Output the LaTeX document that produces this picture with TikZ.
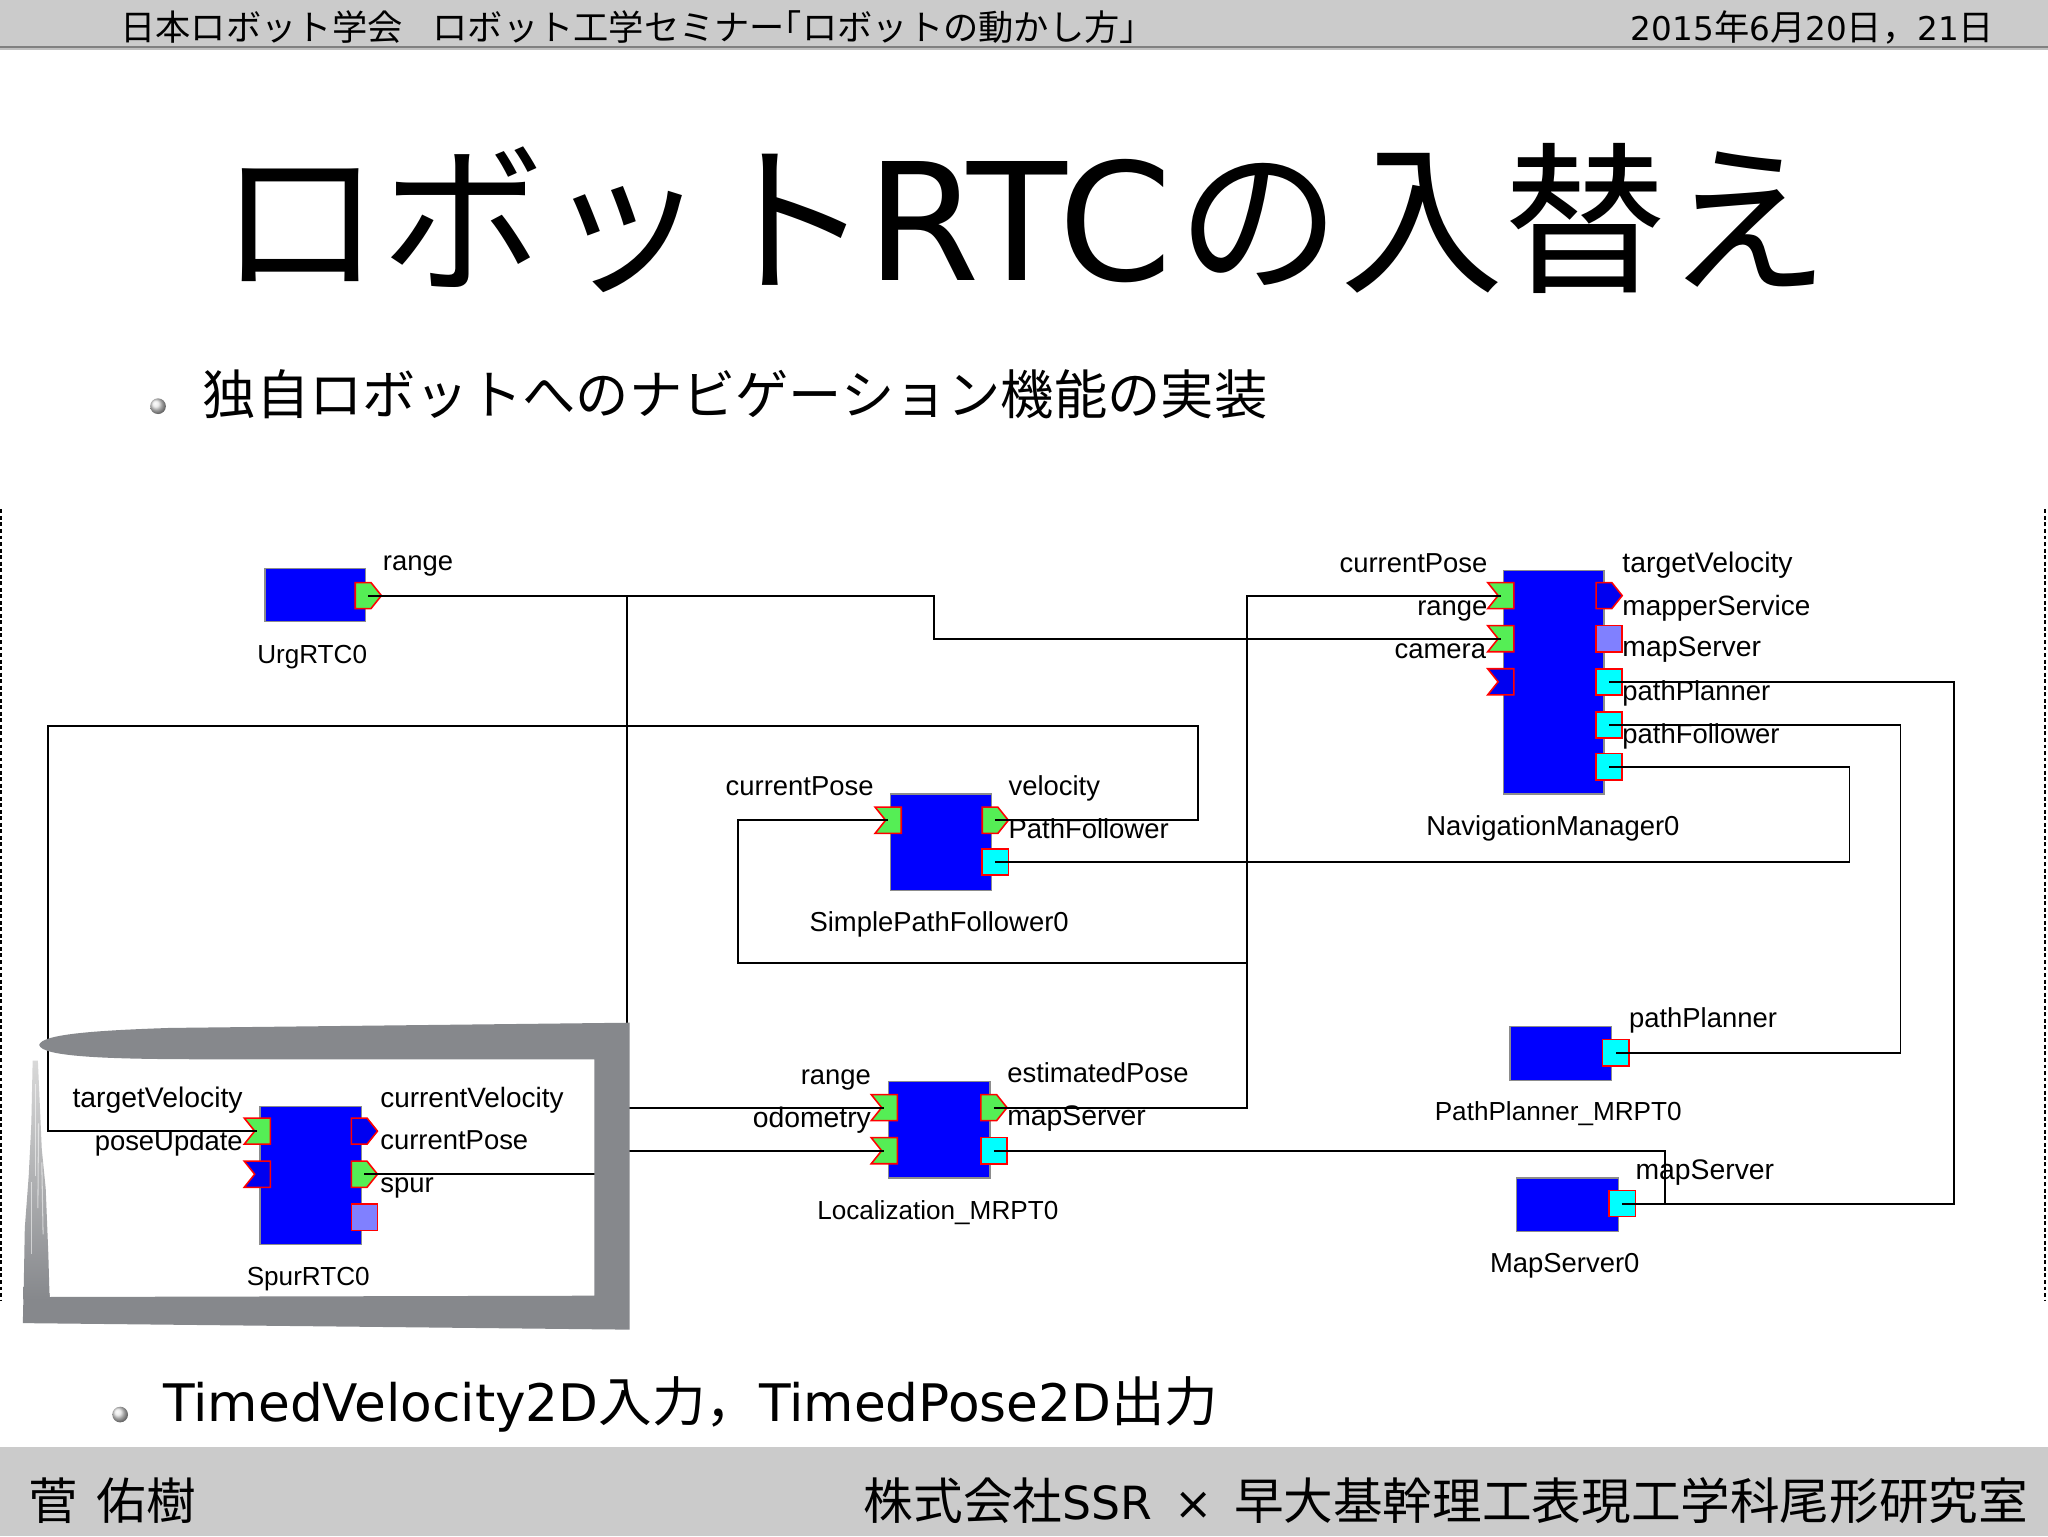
\documentclass[tikz,border=0pt]{standalone}
\usepackage{fontspec}
\setmainfont{Noto Sans CJK JP}
\newfontfamily\latinf{DejaVu Sans}
\newfontfamily\labelf{Liberation Sans}
\usetikzlibrary{calc}
\definecolor{barc}{HTML}{CBCBCB}
\definecolor{framec}{HTML}{86888C}
\definecolor{portgreen}{HTML}{55EE55}
\definecolor{portblue}{HTML}{0000F0}
\definecolor{portcyan}{HTML}{00FFFF}
\definecolor{portpurple}{HTML}{8080FF}
\newcommand{\fsz}[1]{\fontsize{#1}{#1}\selectfont}
\tikzset{
  x=1pt,y=-1pt,
  blockbox/.style={draw=black!45,line width=1pt,fill=blue,inner sep=0pt,outer sep=0pt},
  portanchor/.style={inner sep=0pt,outer sep=0pt,minimum size=20pt},
  portline/.style={draw=red,line width=1.2pt,line join=miter},
  wire/.style={draw=black,line width=1.4pt},
  lbl/.style={font=\labelf\fsz{21},inner sep=0pt,text=black,text height=19pt,text depth=5pt},
  lblL/.style={lbl,anchor=west},
  lblR/.style={lbl,anchor=east},
  lblC/.style={lbl,anchor=center},
  wide/.style={font=\labelf\fsz{21.7}},
  narrow/.style={font=\labelf\fsz{20}},
  ball/.style={ball color=black!10},
}
\newcommand{\outport}[4]{% name, left x, centre y, colour
  \node[portanchor] (#1) at (#2+10,#3) {};
  \path[portline,fill=#4] (#2,#3-10) -- (#2+12,#3-10) -- (#2+20,#3) -- (#2+12,#3+10) -- (#2,#3+10) -- cycle;
}
\newcommand{\inport}[4]{%
  \node[portanchor] (#1) at (#2+10,#3) {};
  \path[portline,fill=#4] (#2,#3-10) -- (#2+20,#3-10) -- (#2+20,#3+10) -- (#2,#3+10) -- (#2+8,#3) -- cycle;
}
\newcommand{\sqport}[4]{%
  \node[portanchor] (#1) at (#2+10,#3) {};
  \path[portline,fill=#4] (#2,#3-10) rectangle (#2+20,#3+10);
}
\begin{document}
\begin{tikzpicture}
\useasboundingbox (0,0) rectangle (1568,1176);
\fill[white] (0,0) rectangle (1568,1176);
% bars
\fill[barc] (0,0) rectangle (1568,35.5);
\fill[black!50] (0,35.5) rectangle (1568,37);
\fill[black!25] (0,37) rectangle (1568,38.5);
\fill[barc] (0,1108) rectangle (1568,1176);
\node[anchor=west,inner sep=0pt,font=\fsz{27}] (hdl) at (92,21) {日本ロボット学会};
\node[anchor=west,inner sep=0pt,font=\fsz{27}] (hdm) at (331,21) {ロボット工学セミナー\kern-14pt「ロボットの動かし方」};
\node[anchor=east,inner sep=0pt,font=\fsz{27}] (hdr) at (1527,21) {{\latinf\fsz{25}2015}年{\latinf\fsz{25}6}月{\latinf\fsz{25}20}日，{\latinf\fsz{25}21}日};
\node[anchor=west,inner sep=0pt,font=\fsz{38}] (ftl) at (22,1149) {菅\kern14pt 佑樹};
\node[anchor=east,inner sep=0pt,font=\fsz{38}] (ftr) at (1553,1149) {株式会社{\latinf\fsz{35}SSR\kern5.5pt{} × \kern5.5pt}早大基幹理工表現工学科尾形研究室};
% title
\node[anchor=west,inner sep=0pt,font=\fsz{125}] (title) at (167,167) {ロボット\kern-4pt{\latinf RTC}\kern4pt の入替え};
\shade[ball] (121,311) circle (6);
\node[anchor=west,inner sep=0pt,font=\fsz{40.8}] (b1) at (155,302) {独自ロボットへのナビゲーション機能の実装};
\shade[ball] (92,1083) circle (6);
\node[anchor=west,inner sep=0pt,font=\fsz{41}] (b2) at (125,1075) {{\latinf\fsz{39.6}TimedVelocity2D}入力，{\latinf\fsz{39.6}TimedPose2D}出力};
% placeholder border
\draw[black,line width=1.5pt,dash pattern=on 3pt off 2pt] (1,390) -- (1,996);
\draw[black,line width=1.5pt,dash pattern=on 3pt off 2pt] (1566,390) -- (1566,996);
% blocks
\node[blockbox,anchor=north west,minimum width=77pt,minimum height=41pt] (urg) at (203,435) {};
\node[blockbox,anchor=north west,minimum width=77pt,minimum height=171pt] (nav) at (1151,437) {};
\node[blockbox,anchor=north west,minimum width=77pt,minimum height=74pt] (spf) at (682,608) {};
\node[blockbox,anchor=north west,minimum width=78pt,minimum height=74pt] (loc) at (680,828) {};
\node[blockbox,anchor=north west,minimum width=78pt,minimum height=41pt] (ppl) at (1156,786) {};
\node[blockbox,anchor=north west,minimum width=78pt,minimum height=41pt] (msv) at (1161,902) {};
\node[blockbox,anchor=north west,minimum width=78pt,minimum height=106pt] (spu) at (199,847) {};
% ports
\outport{urgR}{272}{456}{portgreen}
\inport{navA}{1139}{456}{portgreen}
\inport{navB}{1139}{489}{portgreen}
\inport{navC}{1139}{522}{portblue}
\outport{navD}{1222}{456}{portblue}
\sqport{navE}{1222}{489}{portpurple}
\sqport{navF}{1222}{522}{portcyan}
\sqport{navG}{1222}{555}{portcyan}
\sqport{navH}{1222}{587}{portcyan}
\inport{spfA}{670}{628}{portgreen}
\outport{spfB}{752}{628}{portgreen}
\sqport{spfC}{752}{660}{portcyan}
\inport{locA}{667}{848}{portgreen}
\inport{locB}{667}{881}{portgreen}
\outport{locC}{751}{848}{portgreen}
\sqport{locD}{751}{881}{portcyan}
\sqport{pplA}{1227}{806}{portcyan}
\sqport{msvA}{1232}{921.5}{portcyan}
\inport{spuA}{187}{866}{portgreen}
\inport{spuB}{187}{899}{portblue}
\outport{spuC}{269}{866}{portblue}
\outport{spuD}{269}{899}{portgreen}
\sqport{spuE}{269}{932}{portpurple}
% wires
\draw[wire] (urgR.center) -- (715,456) -- (715,489) -- (navB.center);
\draw[wire] (480,456) -- (480,848) -- (locA.center);
\draw[wire] (spuD.center) -- (480,899) -- (480,881) -- (locB.center);
\draw[wire] (locC.center) -- (955,848) -- (955,456) -- (navA.center);
\draw[wire] (955,737) -- (565,737) -- (565,628) -- (spfA.center);
\draw[wire] (spfB.center) -- (917,628) -- (917,556) -- (37,556) -- (37,866) -- (spuA.center);
\draw[wire] (spfC.center) -- (1416,660) -- (1416,587) -- (navH.center);
\draw[wire] (navG.center) -- (1455,555) -- (1455,806) -- (pplA.center);
\draw[wire] (navF.center) -- (1496,522) -- (1496,921.5) -- (msvA.center);
\draw[wire] (locD.center) -- (1275,881) -- (1275,921.5) -- (msvA.center);
% hand-drawn frame over SpurRTC0
\fill[framec] (30,800) .. controls (32,792) and (70,789) .. (130,787) -- (482,783) -- (482,1018) -- (17.5,1013)
  -- (18,990) -- (38,990) -- (38,993) -- (455,992) -- (455,811) -- (160,811) .. controls (80,811) and (32,809) .. (30,800) -- cycle;
\shade[top color=black!15,middle color=framec!90,bottom color=framec]
  (25,812) -- (29,812) -- (32,880) -- (35,910) -- (37,960) -- (38,995) -- (18,995) -- (19,940) -- (22,900) -- (24,860) -- cycle;
\foreach \a/\b/\c/\d in {27/27/830/900,29.5/29/860/925,32/33/890/945,24/24/905/960}
  \draw[white,opacity=.55,line width=.8pt] (\a,\c) -- (\b,\d);
% labels
\node[lblL] (l1) at (293,430) {range};
\node[lblC,narrow] (n1) at (239,501) {UrgRTC0};
\node[lblR] (l2) at (1139,431) {currentPose};
\node[lblR] (l3) at (1139,464) {range};
\node[lblR] (l4) at (1138,497) {camera};
\node[lblL,wide] (l5) at (1242,431) {targetVelocity};
\node[lblL,font=\labelf\fsz{21.4}] (l6) at (1242,464) {mapperService};
\node[lblL,wide] (l7) at (1242,496) {mapServer};
\node[lblL] (l8) at (1242,529) {pathPlanner};
\node[lblL] (l9) at (1242,562) {pathFollower};
\node[lblC] (n2) at (1189,633) {NavigationManager0};
\node[lblR] (l10) at (669,602) {currentPose};
\node[lblL] (l11) at (772,602) {velocity};
\node[lblL] (l12) at (772,635) {PathFollower};
\node[lblC] (n3) at (719,706) {SimplePathFollower0};
\node[lblR] (l13) at (667,823) {range};
\node[lblR,wide] (l14) at (667,856) {odometry};
\node[lblL] (l15) at (771,822) {estimatedPose};
\node[lblL,wide] (l16) at (771,855) {mapServer};
\node[lblC,narrow] (n4) at (718,927) {Localization\_MRPT0};
\node[lblL] (l17) at (1247,780) {pathPlanner};
\node[lblC,narrow] (n5) at (1193,851) {PathPlanner\_MRPT0};
\node[lblL,wide] (l18) at (1252,896) {mapServer};
\node[lblC] (n6) at (1198,967) {MapServer0};
\node[lblR,wide] (l19) at (186,841) {targetVelocity};
\node[lblR] (l20) at (186,874) {poseUpdate};
\node[lblL,font=\labelf\fsz{21.4}] (l21) at (291,841) {currentVelocity};
\node[lblL] (l22) at (291,873) {currentPose};
\node[lblL] (l23) at (291,906) {spur};
\node[lblC,narrow] (n7) at (236,977) {SpurRTC0};
\end{tikzpicture}
\end{document}
